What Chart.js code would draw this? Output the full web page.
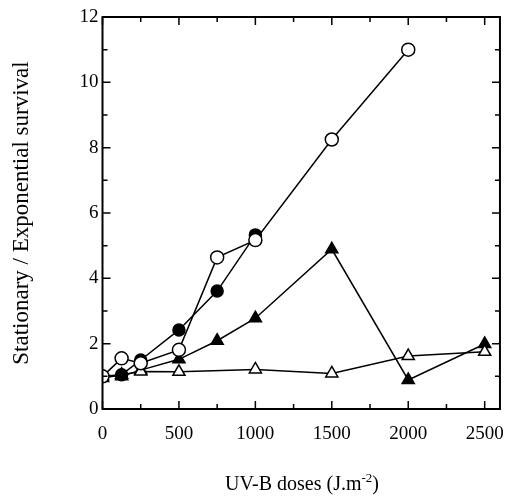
<!DOCTYPE html>
<html>
<head>
<meta charset="utf-8">
<script src="https://cdn.jsdelivr.net/npm/chart.js@4/dist/chart.umd.min.js"></script>
<style>
  html, body { margin: 0; padding: 0; background: #fff; }
  #wrap { width: 518px; height: 496px; position: relative; }
</style>
</head>
<body>
<div id="wrap"><canvas id="survivalChart"></canvas></div>
<script>
// UV-B doses (J/m2) and stationary / exponential survival ratios
const doses = [0, 125, 250, 500, 750, 1000, 1500, 2000, 2500];
const openCircles   = [1.0, 1.55, 1.40, 1.81, 4.64, 5.17, 8.25, 11.0, null];
const filledCircles = [1.0, 1.05, 1.50, 2.42, 3.61, 5.33, null, null, null];
const filledTriangles = [1.0, 1.0, 1.19, 1.52, 2.09, 2.78, 4.89, 0.89, 1.99];
const openTriangles   = [0.95, 1.05, 1.15, 1.14, null, 1.21, 1.09, 1.62, 1.75];

const xTicks = [0, 500, 1000, 1500, 2000, 2500];
const yTicks = [0, 2, 4, 6, 8, 10, 12];

const serif = '"Liberation Serif", "Times New Roman", serif';

function toPoints(values) {
    return doses.map((d, i) => ({ x: d, y: values[i] })).filter(p => p.y !== null);
}

function series(label, values, style, filled, radius) {
    return {
        label: label,
        data: toPoints(values),
        borderColor: '#000',
        borderWidth: 1.5,
        pointStyle: style,
        pointRadius: radius,
        pointBorderWidth: 1.5,
        pointBorderColor: '#000',
        pointBackgroundColor: filled ? '#000' : '#fff',
        tension: 0,
        spanGaps: true
    };
}

// frame, inward tick marks and the x axis title with its superscript
const framePlugin = {
    id: 'frame',
    afterDraw(chart) {
        const ctx = chart.ctx;
        const a = chart.chartArea;
        const xs = chart.scales.x;
        const ys = chart.scales.y;
        ctx.save();
        ctx.strokeStyle = '#000';
        ctx.lineWidth = 2;
        ctx.strokeRect(a.left, a.top, a.right - a.left, a.bottom - a.top);
        ctx.lineWidth = 1.5;
        ctx.beginPath();
        for (let v = 0; v <= 2500; v += 250) {
            const px = xs.getPixelForValue(v);
            const len = v % 500 === 0 ? 8 : 5;
            ctx.moveTo(px, a.bottom); ctx.lineTo(px, a.bottom - len);
            ctx.moveTo(px, a.top); ctx.lineTo(px, a.top + len);
        }
        for (let v = 1; v < 12; v += 1) {
            const py = ys.getPixelForValue(v);
            const len = v % 2 === 0 ? 8 : 5;
            ctx.moveTo(a.left, py); ctx.lineTo(a.left + len, py);
            ctx.moveTo(a.right, py); ctx.lineTo(a.right - len, py);
        }
        ctx.stroke();

        // x title
        ctx.fillStyle = '#000';
        ctx.textBaseline = 'alphabetic';
        ctx.textAlign = 'left';
        const main = 'UV-B doses (J.m';
        const sup = '-2';
        const tail = ')';
        ctx.font = '20px ' + serif;
        const w1 = ctx.measureText(main).width;
        const w3 = ctx.measureText(tail).width;
        ctx.font = '13px ' + serif;
        const w2 = ctx.measureText(sup).width;
        const x = 302 - (w1 + w2 + w3) / 2;
        const base = 490;
        ctx.font = '20px ' + serif;
        ctx.fillText(main, x, base);
        ctx.font = '13px ' + serif;
        ctx.fillText(sup, x + w1, base - 8);
        ctx.font = '20px ' + serif;
        ctx.fillText(tail, x + w1 + w2, base);
        ctx.restore();
    }
};

new Chart(document.getElementById('survivalChart'), {
    type: 'line',
    data: {
        datasets: [
            series('open circles', openCircles, 'circle', false, 6.5),
            series('filled circles', filledCircles, 'circle', true, 6),
            series('open triangles', openTriangles, 'triangle', false, 7),
            series('filled triangles', filledTriangles, 'triangle', true, 7)
        ]
    },
    options: {
        responsive: true,
        maintainAspectRatio: false,
        animation: false,
        layout: { padding: { left: 0, right: 6, top: 17, bottom: 0 } },
        plugins: {
            legend: { display: false },
            tooltip: { enabled: false }
        },
        scales: {
            x: {
                type: 'linear',
                min: 0,
                max: 2600,
                afterBuildTicks(scale) { scale.ticks = xTicks.map(v => ({ value: v })); },
                afterFit(scale) { scale.height = 87; },
                grid: { display: false, drawTicks: false },
                border: { display: false },
                ticks: {
                    color: '#000',
                    padding: 14,
                    maxRotation: 0,
                    font: { family: serif, size: 19 },
                    callback: v => String(v)
                }
            },
            y: {
                min: 0,
                max: 12,
                afterBuildTicks(scale) { scale.ticks = yTicks.map(v => ({ value: v })); },
                afterFit(scale) { scale.width = 102.5; },
                grid: { display: false, drawTicks: false },
                border: { display: false },
                title: {
                    display: true,
                    text: 'Stationary / Exponential survival',
                    color: '#000',
                    font: { family: serif, size: 23 },
                    padding: { top: 8, bottom: 0 }
                },
                ticks: {
                    color: '#000',
                    padding: 4,
                    font: { family: serif, size: 19 }
                }
            }
        }
    },
    plugins: [framePlugin]
});
</script>
</body>
</html>
